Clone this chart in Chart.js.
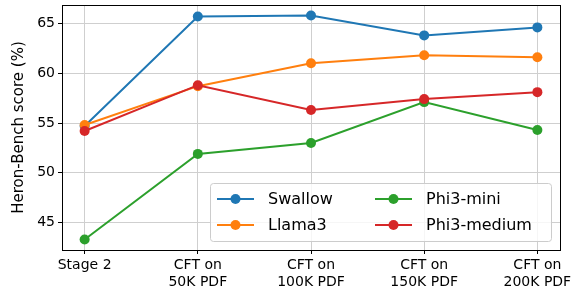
<!DOCTYPE html>
<html>
<head>
<meta charset="utf-8">
<script src="https://cdn.jsdelivr.net/npm/chart.js@4"></script>
<style>
  body { margin: 0; background: #fff; }
  #wrap { width: 580px; height: 295px; position: relative; }
</style>
</head>
<body>
<div id="wrap"><canvas id="myChart"></canvas></div>
<script>
'use strict';

// x categories (multi-line tick labels)
const stages = [['Stage 2'], ['CFT on', '50K PDF'], ['CFT on', '100K PDF'], ['CFT on', '150K PDF'], ['CFT on', '200K PDF']];
const modelNames = ['Swallow', 'Llama3', 'Phi3-mini', 'Phi3-medium'];
const modelColors = ['#1f77b4', '#ff7f0e', '#2ca02c', '#d62728'];

// Heron-Bench scores
const swallowScores = [54.7, 65.7, 65.8, 63.8, 64.6];
const llama3Scores = [54.8, 58.7, 61.0, 61.8, 61.6];
const phi3MiniScores = [43.3, 51.9, 53.0, 57.1, 54.3];
const phi3MediumScores = [54.2, 58.8, 56.3, 57.4, 58.1];

const yTicks = [45, 50, 55, 60, 65];

const allScores = [swallowScores, llama3Scores, phi3MiniScores, phi3MediumScores];
const font = "'DejaVu Sans', sans-serif";

// matplotlib-style frame round the plot
const framePlugin = {
  id: 'frame',
  afterDatasetsDraw(chart) {
    const a = chart.chartArea;
    const ctx = chart.ctx;
    ctx.save();
    ctx.strokeStyle = '#000';
    ctx.lineWidth = 1;
    ctx.strokeRect(Math.round(a.left) + 0.5, Math.round(a.top) + 0.5,
      Math.round(a.right - a.left), Math.round(a.bottom - a.top));
    ctx.restore();
  }
};

// two-column legend box in lower right corner (column-major like matplotlib)
const legendPlugin = {
  id: 'boxLegend',
  afterDraw(chart) {
    const a = chart.chartArea;
    const ctx = chart.ctx;
    const w = 341, h = 58;
    const x0 = a.right - 9 - w, y0 = a.bottom - 9 - h;
    ctx.save();
    ctx.beginPath();
    ctx.roundRect(x0 + 0.5, y0 + 0.5, w, h, 3);
    ctx.fillStyle = 'rgba(255,255,255,0.8)';
    ctx.fill();
    ctx.strokeStyle = '#cccccc';
    ctx.lineWidth = 1;
    ctx.stroke();
    ctx.font = '16px ' + font;
    ctx.textBaseline = 'middle';
    for (let i = 0; i < modelNames.length; i++) {
      const col = Math.floor(i / 2), row = i % 2;
      const hx = x0 + 7 + col * 158;
      const hy = y0 + 16 + row * 26;
      ctx.strokeStyle = modelColors[i];
      ctx.lineWidth = 2;
      ctx.beginPath();
      ctx.moveTo(hx, hy);
      ctx.lineTo(hx + 37, hy);
      ctx.stroke();
      ctx.fillStyle = modelColors[i];
      ctx.beginPath();
      ctx.arc(hx + 18.5, hy, 5, 0, Math.PI * 2);
      ctx.fill();
      ctx.fillStyle = '#000';
      ctx.fillText(modelNames[i], hx + 51, hy + 1);
    }
    ctx.restore();
  }
};

const datasets = modelNames.map(function(name, i) {
  return {
    label: name,
    data: allScores[i].map(function(v, j) { return { x: j, y: v }; }),
    borderColor: modelColors[i],
    backgroundColor: modelColors[i],
    borderWidth: 2,
    pointRadius: 5,
    pointHoverRadius: 5,
    pointBorderWidth: 0,
    order: modelNames.length - i
  };
});

new Chart(document.getElementById('myChart'), {
  type: 'line',
  data: { datasets: datasets },
  plugins: [framePlugin, legendPlugin],
  options: {
    responsive: true,
    maintainAspectRatio: false,
    animation: false,
    layout: { padding: { top: 3, right: 20, left: 0, bottom: 0 } },
    plugins: { legend: { display: false }, tooltip: { enabled: false } },
    scales: {
      x: {
        type: 'linear',
        min: -0.2,
        max: 4.2,
        afterBuildTicks(scale) {
          scale.ticks = stages.map(function(s, i) { return { value: i }; });
        },
        afterFit(scale) { scale.height = 45; },
        ticks: {
          color: '#000',
          font: { family: font, size: 14 },
          padding: 3,
          maxRotation: 0,
          callback: function(v) { return stages[v]; }
        },
        grid: { color: '#cfcfcf', lineWidth: 1, tickColor: '#000', tickLength: 4 },
        border: { display: false }
      },
      y: {
        min: 42.25,
        max: 66.85,
        afterBuildTicks(scale) {
          scale.ticks = yTicks.map(function(v) { return { value: v }; });
        },
        afterFit(scale) {
          scale.width = 62;
          scale.paddingTop = 0;
          scale.paddingBottom = 0;
        },
        ticks: {
          color: '#000',
          font: { family: font, size: 14 },
          padding: 3
        },
        grid: { color: '#cfcfcf', lineWidth: 1, tickColor: '#000', tickLength: 4 },
        border: { display: false },
        title: {
          display: true,
          text: 'Heron-Bench score (%)',
          color: '#000',
          font: { family: font, size: 15 },
          padding: { top: 10, bottom: 0 }
        }
      }
    }
  }
});
</script>
</body>
</html>
